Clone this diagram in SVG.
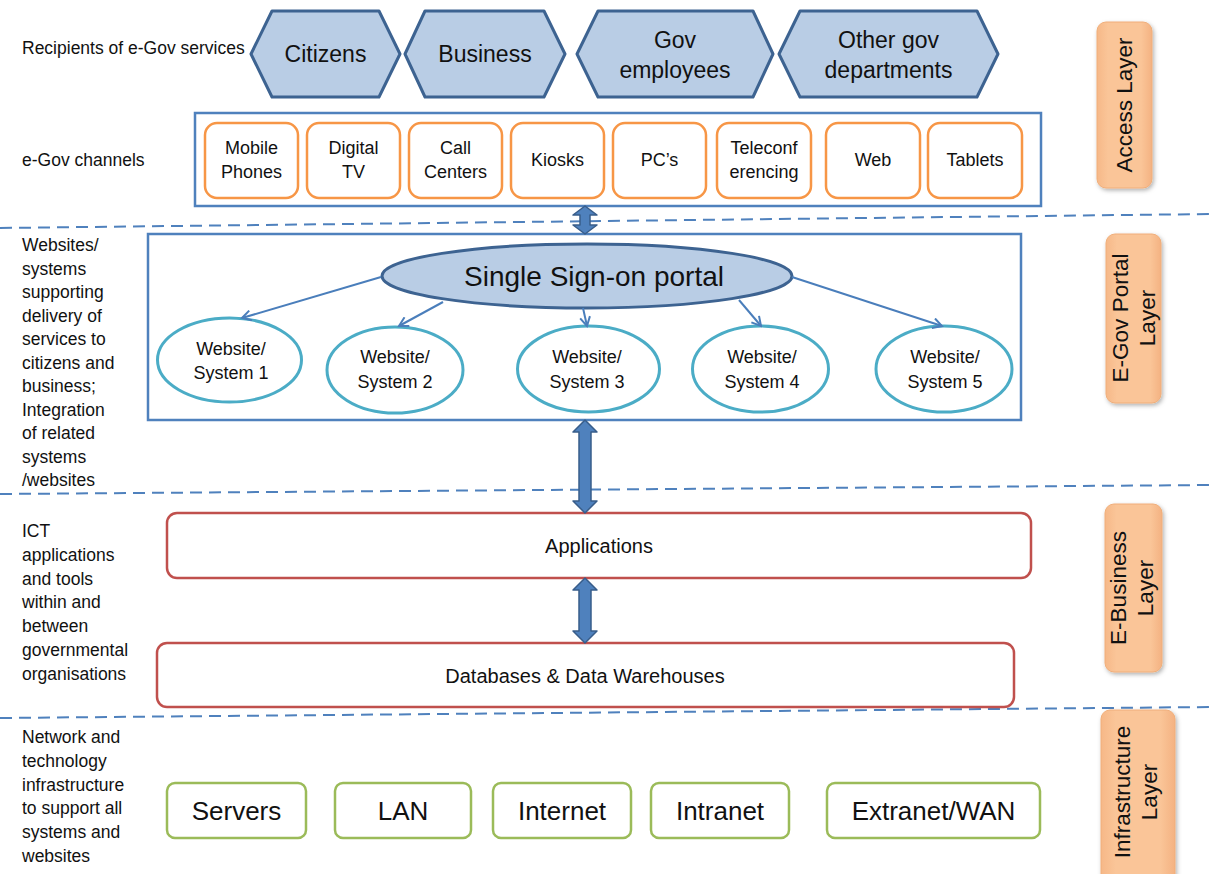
<svg xmlns="http://www.w3.org/2000/svg" width="1211" height="874" viewBox="0 0 1211 874">
<style>
text{font-family:"Liberation Sans",Arial,sans-serif;fill:#111;}
.lt{font-size:17.5px;}
.hx{fill:#b9cde5;stroke:#3d6391;stroke-width:3;stroke-linejoin:round;}
.hxt{font-size:23px;text-anchor:middle;}
.frame{fill:#fff;stroke:#4f81bd;stroke-width:2.5;}
.ch{fill:#fff;stroke:#f79646;stroke-width:2.5;}
.cht{font-size:18px;text-anchor:middle;}
.ws{fill:#fff;stroke:#4bacc6;stroke-width:3;}
.wst{font-size:18px;text-anchor:middle;}
.app{fill:#fff;stroke:#c0504d;stroke-width:2.5;}
.appt{font-size:20px;text-anchor:middle;}
.inf{fill:#fff;stroke:#9bbb59;stroke-width:2.5;}
.inft{font-size:26px;text-anchor:middle;}
.dash{stroke:#4f81bd;stroke-width:2;stroke-dasharray:12 7;fill:none;}
.thin{stroke:#4a7ebb;stroke-width:2;fill:none;marker-end:url(#ah);}
.blk{fill:#4f81bd;stroke:#385d8a;stroke-width:1.5;stroke-linejoin:round;}
.lay{fill:url(#og);stroke:#f0ae7a;stroke-width:1;filter:url(#sh);}
.layt{font-size:22.5px;text-anchor:middle;}
</style>
<defs>
<marker id="ah" viewBox="0 0 12 12" refX="10" refY="6" markerWidth="6" markerHeight="6" orient="auto" markerUnits="strokeWidth">
<path d="M1,1 L10,6 L1,11" fill="none" stroke="#4a7ebb" stroke-width="2"/>
</marker>
<linearGradient id="og" x1="0" y1="0" x2="1" y2="0">
<stop offset="0" stop-color="#f6b888"/>
<stop offset="0.2" stop-color="#fac598"/>
<stop offset="0.8" stop-color="#fac598"/>
<stop offset="1" stop-color="#f4b282"/>
</linearGradient>
<filter id="sh" x="-30%" y="-10%" width="160%" height="130%">
<feDropShadow dx="1.5" dy="2" stdDeviation="2" flood-color="#000" flood-opacity="0.3"/>
</filter>
</defs>

<g id="left-labels">
<text class="lt" x="22" y="54">Recipients of e-Gov services</text>
<text class="lt" x="22" y="166">e-Gov channels</text>
<text class="lt" x="22" y="251">Websites/</text>
<text class="lt" x="22" y="274.5">systems</text>
<text class="lt" x="22" y="298">supporting</text>
<text class="lt" x="22" y="321.5">delivery of</text>
<text class="lt" x="22" y="345">services to</text>
<text class="lt" x="22" y="368.5">citizens and</text>
<text class="lt" x="22" y="392">business;</text>
<text class="lt" x="22" y="415.5">Integration</text>
<text class="lt" x="22" y="439">of related</text>
<text class="lt" x="22" y="462.5">systems</text>
<text class="lt" x="22" y="486">/websites</text>
<text class="lt" x="22" y="537">ICT</text>
<text class="lt" x="22" y="561">applications</text>
<text class="lt" x="22" y="585">and tools</text>
<text class="lt" x="22" y="608">within and</text>
<text class="lt" x="22" y="632">between</text>
<text class="lt" x="22" y="656">governmental</text>
<text class="lt" x="22" y="680">organisations</text>
<text class="lt" x="22" y="743">Network and</text>
<text class="lt" x="22" y="767">technology</text>
<text class="lt" x="22" y="791">infrastructure</text>
<text class="lt" x="22" y="814">to support all</text>
<text class="lt" x="22" y="838">systems and</text>
<text class="lt" x="22" y="862">websites</text>
</g>

<g id="dividers">
<line class="dash" x1="0" y1="228" x2="1211" y2="214"/>
<line class="dash" x1="0" y1="494" x2="1211" y2="485"/>
<line class="dash" x1="0" y1="718" x2="1211" y2="707"/>
</g>

<g id="recipients">
<g id="citizens"><polygon class="hx" points="251,54 272,11 379,11 400,54 379,97 272,97"/><text class="hxt" x="325.5" y="62">Citizens</text></g>
<g id="business"><polygon class="hx" points="405,54 425,11 544,11 565,54 544,97 425,97"/><text class="hxt" x="485" y="62">Business</text></g>
<g id="gov-employees"><polygon class="hx" points="577,54 598,11 753,11 773,54 753,97 598,97"/><text class="hxt" x="675" y="48">Gov</text><text class="hxt" x="675" y="78">employees</text></g>
<g id="other-gov"><polygon class="hx" points="779,54 800,11 977,11 998,54 977,97 800,97"/><text class="hxt" x="888.5" y="48">Other gov</text><text class="hxt" x="888.5" y="78">departments</text></g>
</g>

<g id="channels">
<rect class="frame" x="195" y="113" width="846" height="93"/>
<g id="ch-mobile"><rect class="ch" x="205" y="123" width="93" height="75" rx="12"/><text class="cht" x="251.5" y="154">Mobile</text><text class="cht" x="251.5" y="178">Phones</text></g>
<g id="ch-tv"><rect class="ch" x="307" y="123" width="93" height="75" rx="12"/><text class="cht" x="353.5" y="154">Digital</text><text class="cht" x="353.5" y="178">TV</text></g>
<g id="ch-call"><rect class="ch" x="409" y="123" width="93" height="75" rx="12"/><text class="cht" x="455.5" y="154">Call</text><text class="cht" x="455.5" y="178">Centers</text></g>
<g id="ch-kiosks"><rect class="ch" x="511" y="123" width="93" height="75" rx="12"/><text class="cht" x="557.5" y="166">Kiosks</text></g>
<g id="ch-pcs"><rect class="ch" x="613" y="123" width="93" height="75" rx="12"/><text class="cht" x="659.5" y="166">PC’s</text></g>
<g id="ch-tele"><rect class="ch" x="717" y="123" width="94" height="75" rx="12"/><text class="cht" x="764" y="154">Teleconf</text><text class="cht" x="764" y="178">erencing</text></g>
<g id="ch-web"><rect class="ch" x="826" y="123" width="94" height="75" rx="12"/><text class="cht" x="873" y="166">Web</text></g>
<g id="ch-tablets"><rect class="ch" x="928" y="123" width="94" height="75" rx="12"/><text class="cht" x="975" y="166">Tablets</text></g>
</g>

<g id="portal">
<rect class="frame" x="148" y="234" width="873" height="186"/>
<g id="sso"><ellipse cx="587" cy="276" rx="205" ry="32" fill="#b9cde5" stroke="#3d6391" stroke-width="3"/><text x="594" y="286" font-size="28" text-anchor="middle">Single Sign-on portal</text></g>
<g id="ws1"><ellipse class="ws" cx="229.5" cy="360" rx="72" ry="42"/><text class="wst" x="231" y="355">Website/</text><text class="wst" x="231" y="379">System 1</text></g>
<g id="ws2"><ellipse class="ws" cx="395" cy="370" rx="68" ry="43"/><text class="wst" x="395" y="363">Website/</text><text class="wst" x="395" y="388">System 2</text></g>
<g id="ws3"><ellipse class="ws" cx="588.5" cy="369" rx="71" ry="43"/><text class="wst" x="587" y="363">Website/</text><text class="wst" x="587" y="388">System 3</text></g>
<g id="ws4"><ellipse class="ws" cx="760.5" cy="369" rx="68" ry="43"/><text class="wst" x="762" y="363">Website/</text><text class="wst" x="762" y="388">System 4</text></g>
<g id="ws5"><ellipse class="ws" cx="944" cy="369" rx="68" ry="43"/><text class="wst" x="945" y="363">Website/</text><text class="wst" x="945" y="388">System 5</text></g>
</g>

<g id="ebusiness">
<g id="applications"><rect class="app" x="167" y="513" width="864" height="65" rx="10"/><text class="appt" x="599" y="553">Applications</text></g>
<g id="databases"><rect class="app" x="157" y="643" width="857" height="64" rx="10"/><text class="appt" x="585" y="683">Databases &amp; Data Warehouses</text></g>
</g>

<g id="infrastructure">
<g id="servers"><rect class="inf" x="167" y="783" width="139" height="55" rx="8"/><text class="inft" x="236.5" y="820">Servers</text></g>
<g id="lan"><rect class="inf" x="335" y="783" width="136" height="55" rx="8"/><text class="inft" x="403" y="820">LAN</text></g>
<g id="internet"><rect class="inf" x="493" y="783" width="138" height="55" rx="8"/><text class="inft" x="562" y="820">Internet</text></g>
<g id="intranet"><rect class="inf" x="651" y="783" width="138" height="55" rx="8"/><text class="inft" x="720" y="820">Intranet</text></g>
<g id="extranet"><rect class="inf" x="827" y="783" width="213" height="55" rx="8"/><text class="inft" x="933.5" y="820">Extranet/WAN</text></g>
</g>

<g id="connectors">
<line class="thin" x1="381" y1="277" x2="242" y2="318"/>
<line class="thin" x1="443" y1="302" x2="399" y2="326"/>
<line class="thin" x1="583" y1="308" x2="587" y2="326"/>
<line class="thin" x1="739" y1="300" x2="761" y2="326"/>
<line class="thin" x1="792" y1="277" x2="942" y2="326"/>
<polygon class="blk" points="585,206 573,215 580,215 580,225 573,225 585,234 597,225 590,225 590,215 597,215"/>
<polygon class="blk" points="585,420 573,432 579,432 579,501 573,501 585,513 597,501 591,501 591,432 597,432"/>
<polygon class="blk" points="585,578 573,590 579,590 579,631 573,631 585,643 597,631 591,631 591,590 597,590"/>
</g>

<g id="layers">
<g id="access-layer"><rect class="lay" x="1097" y="22" width="55" height="166" rx="9"/><text class="layt" transform="translate(1132,105) rotate(-90)" x="0" y="0">Access Layer</text></g>
<g id="portal-layer"><rect class="lay" x="1106" y="234" width="55" height="169" rx="9"/><text class="layt" transform="translate(1128,318) rotate(-90)"><tspan x="0" y="0">E-Gov Portal</tspan><tspan x="0" y="27">Layer</tspan></text></g>
<g id="business-layer"><rect class="lay" x="1105" y="504" width="57" height="168" rx="9"/><text class="layt" transform="translate(1126,588) rotate(-90)"><tspan x="0" y="0">E-Business</tspan><tspan x="0" y="27">Layer</tspan></text></g>
<g id="infra-layer"><rect class="lay" x="1101" y="710" width="74" height="175" rx="9"/><text class="layt" transform="translate(1130,792) rotate(-90)"><tspan x="0" y="0">Infrastructure</tspan><tspan x="0" y="27">Layer</tspan></text></g>
</g>
</svg>
